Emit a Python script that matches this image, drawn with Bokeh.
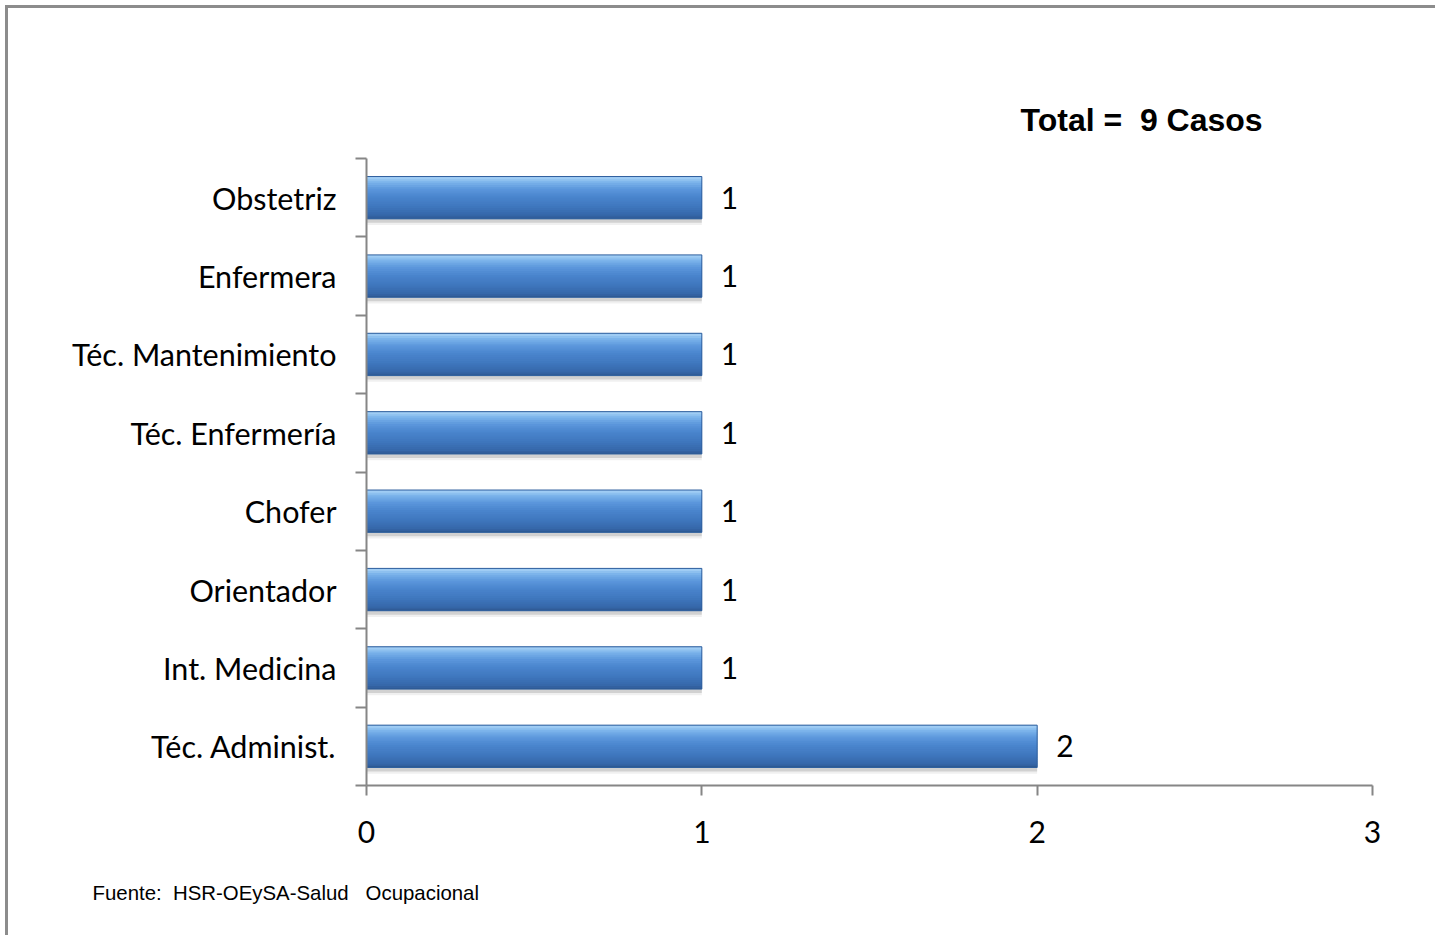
from bokeh.plotting import figure
from bokeh.models import Range1d, FixedTicker, Title, ColumnDataSource
from bokeh.core.properties import value
from bokeh.transform import dodge
from bokeh.embed import file_html
from bokeh.resources import INLINE

# ---- data (bottom to top) ----
categories = ["Téc. Administ.", "Int. Medicina", "Orientador", "Chofer",
              "Téc. Enfermería", "Téc. Mantenimiento", "Enfermera", "Obstetriz"]
values = [2, 1, 1, 1, 1, 1, 1, 1]
x_ticks = [0, 1, 2, 3]
title_text = "Total =\u00a0 9 Casos"
source_text = "Fuente:\u00a0 HSR-OEySA-Salud\u00a0\u00a0 Ocupacional"

n = len(categories)
centers = [i + 0.5 for i in range(n)]
src = ColumnDataSource(dict(y=centers, cat=categories, value=values,
                            label=[str(v) for v in values]))

AX = "#868686"
LBL_FONT = "Lato"

p = figure(width=1430, height=930,
           y_range=Range1d(0, n), x_range=Range1d(0, 3),
           output_backend="svg", toolbar_location=None,
           min_border_left=358, min_border_right=66,
           min_border_top=150, min_border_bottom=145)
p.outline_line_color = None
p.grid.visible = False
p.background_fill_color = "white"
p.border_fill_color = "white"
p.styles = {"border-top": "3px solid #8c8c8c", "border-left": "3px solid #8c8c8c",
            "margin-left": "5px", "margin-top": "5px"}

# y axis: labels at category centres, tick marks between categories
ya = p.yaxis[0]
ya.ticker = FixedTicker(ticks=centers, minor_ticks=list(range(n + 1)))
ya.major_label_overrides = {c: name for c, name in zip(centers, categories)}
ya.major_tick_line_color = None
ya.major_tick_out = 0
ya.major_tick_in = 0
ya.minor_tick_out = 11
ya.minor_tick_in = 0
ya.minor_tick_line_color = AX
ya.minor_tick_line_width = 2
ya.axis_line_color = AX
ya.axis_line_width = 2
ya.major_label_standoff = 19
ya.major_label_text_font = LBL_FONT
ya.major_label_text_font_size = "30.5px"
ya.major_label_text_color = "black"

# x axis
xa = p.xaxis[0]
xa.ticker = FixedTicker(ticks=x_ticks)
xa.major_tick_out = 10
xa.major_tick_in = 0
xa.minor_tick_line_color = None
xa.axis_line_color = AX
xa.axis_line_width = 2
xa.major_tick_line_color = AX
xa.major_tick_line_width = 2
xa.major_label_text_font = LBL_FONT
xa.major_label_text_font_size = "30px"
xa.major_label_text_color = "black"
xa.major_label_standoff = 25

# ---- 3D-looking bars: shadow + vertical gradient built from thin strips ----
H = 0.54
p.hbar(y=dodge("y", -0.08), left=0, right="value", height=H,
       source=src, fill_color="black", fill_alpha=0.06, line_color=None)
p.hbar(y=dodge("y", -0.05), left=0, right="value", height=H,
       source=src, fill_color="black", fill_alpha=0.13, line_color=None)

stops = [(-0.27, (0x2c, 0x53, 0x88)), (-0.22, (0x35, 0x66, 0xa8)),
         (-0.10, (0x3f, 0x77, 0xbe)), (0.02, (0x4a, 0x85, 0xcd)),
         (0.12, (0x5c, 0x97, 0xdc)), (0.21, (0x7c, 0xb4, 0xeb)),
         (0.27, (0xa8, 0xd2, 0xf6))]


def col_at(t):
    for (t0, c0), (t1, c1) in zip(stops[:-1], stops[1:]):
        if t0 <= t <= t1:
            f = (t - t0) / (t1 - t0)
            return "#%02x%02x%02x" % tuple(int(round(a + (b - a) * f)) for a, b in zip(c0, c1))
    return "#%02x%02x%02x" % stops[-1][1]


p.hbar(y="y", left=0, right="value", height=H, source=src,
       fill_color="#4179c2", line_color=None)
NS = 22
step = H / NS
for k in range(NS):
    off = -H / 2 + step * (k + 0.5)
    h = step * 1.8
    top = min(off + h / 2, H / 2)
    bot = max(off - h / 2, -H / 2)
    p.hbar(y=dodge("y", (top + bot) / 2), left=0, right="value", height=top - bot,
           source=src, fill_color=col_at(off), line_color=None)

p.hbar(y="y", left=0, right="value", height=H, source=src,
       fill_color=None, line_color="#30609e", line_width=1)

# value labels
p.text(x="value", y="y", text="label", source=src, x_offset=19,
       text_baseline="middle", text_align="left",
       text_font=value(LBL_FONT), text_font_size="30px",
       text_color="black")

# title (above) and source note (below)
p.add_layout(Title(text=title_text, align="left", offset=654, standoff=42,
                   text_font="Liberation Sans", text_font_style="bold",
                   text_font_size="32px", text_color="black"), "above")
p.add_layout(Title(text=source_text, align="left", offset=-274, standoff=69,
                   text_font="Liberation Sans", text_font_style="normal",
                   text_font_size="20.4px", text_color="black"), "below")

open("out.html", "w").write(file_html(p, INLINE))
